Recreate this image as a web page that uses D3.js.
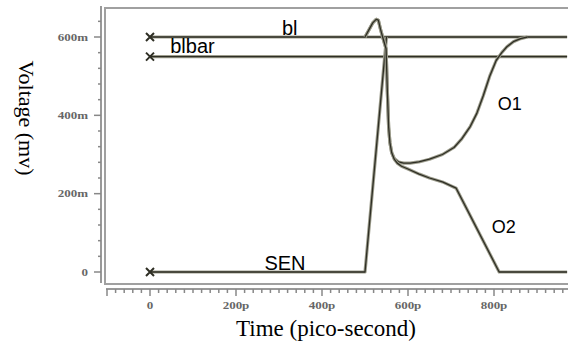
<!DOCTYPE html>
<html>
<head>
<meta charset="utf-8">
<script src="https://cdn.jsdelivr.net/npm/d3@7"></script>
<style>
  body { margin: 0; background: #fff; }
  svg { display: block; }
</style>
</head>
<body>
<svg id="chart" width="568" height="341"></svg>
<script>
const width = 568;
const height = 341;

// time in pico-seconds, voltage in mV
const blTime = [0, 970];
const blVolt = [600, 600];
const blbarTime = [0, 970];
const blbarVolt = [550, 550];
const senTime = [0, 500, 550];
const senVolt = [0, 0, 600];
const o1Time = [500, 510, 518, 526, 531, 536, 541, 549, 552, 555, 558, 562, 568, 578, 590, 605, 625, 650, 680, 707, 725, 745, 760, 775, 790, 805, 818, 830, 845, 862, 878];
const o1Volt = [600, 620, 636, 645, 643, 620, 600, 570, 460, 370, 330, 305, 290, 281, 278, 278, 281, 288, 300, 318, 340, 372, 405, 450, 500, 540, 560, 575, 588, 596, 600];
const o2Time = [500, 510, 518, 526, 531, 536, 541, 549, 552, 555, 558, 562, 568, 575, 585, 600, 626, 650, 680, 712, 812, 970];
const o2Volt = [600, 620, 636, 645, 643, 620, 600, 570, 460, 370, 330, 305, 288, 278, 270, 263, 250, 240, 230, 214, 0, 0];

const xMajor = [0, 200, 400, 600, 800];
const xMajorLabels = ["0", "200p", "400p", "600p", "800p"];
const yMajor = [0, 200, 400, 600];
const yMajorLabels = ["0", "200m", "400m", "600m"];

const labels = [
  { text: "bl", t: 307, v: 605, size: 20 },
  { text: "blbar", t: 47, v: 559, size: 20 },
  { text: "SEN", t: 266, v: 5, size: 20 },
  { text: "O1", t: 809, v: 414, size: 18 },
  { text: "O2", t: 795, v: 100, size: 18 }
];
const markers = [[0, 600], [0, 550], [0, 0]];

const x = d3.scaleLinear().domain([0, 800]).range([150, 494]);
const y = d3.scaleLinear().domain([0, 600]).range([272, 37]);

const svg = d3.select("#chart");
svg.append("rect").attr("width", width).attr("height", height).attr("fill", "#fff");

// cadre du graphe
svg.append("rect")
  .attr("x", 105).attr("y", 8)
  .attr("width", 480).attr("height", 276)
  .attr("fill", "none")
  .attr("stroke", "#a0a0a0")
  .attr("stroke-width", 2);

// axe Y
const yAxisX = 101;
svg.append("line")
  .attr("x1", yAxisX).attr("x2", yAxisX)
  .attr("y1", 6).attr("y2", 283)
  .attr("stroke", "#999").attr("stroke-width", 2);

const yTicks = d3.range(0, 641, 40);
svg.selectAll(".ytick")
  .data(yTicks)
  .enter().append("line")
  .attr("x1", d => yMajor.includes(d) ? yAxisX - 7 : yAxisX - 3)
  .attr("x2", yAxisX)
  .attr("y1", d => y(d)).attr("y2", d => y(d))
  .attr("stroke", "#888").attr("stroke-width", 1.5);

svg.selectAll(".ylab")
  .data(yMajor)
  .enter().append("text")
  .attr("transform", d => `translate(88,${y(d) + 3.5}) scale(1.3,1)`)
  .attr("text-anchor", "end")
  .attr("font-family", "Liberation Serif")
  .attr("font-weight", "bold")
  .attr("font-size", "10px")
  .attr("fill", "#666")
  .text((d, i) => yMajorLabels[i]);

// axe X
const xAxisY = 289;
svg.append("line")
  .attr("x1", 106).attr("x2", width)
  .attr("y1", xAxisY).attr("y2", xAxisY)
  .attr("stroke", "#999").attr("stroke-width", 2);

const xTicks = d3.range(-100, 961, 20);
svg.selectAll(".xtick")
  .data(xTicks)
  .enter().append("line")
  .attr("x1", d => x(d)).attr("x2", d => x(d))
  .attr("y1", xAxisY)
  .attr("y2", d => (xMajor.includes(d) || d === -100) ? xAxisY + 7 : xAxisY + 4)
  .attr("stroke", "#888").attr("stroke-width", 1.5);

svg.selectAll(".xlab")
  .data(xMajor)
  .enter().append("text")
  .attr("transform", d => `translate(${x(d)},309) scale(1.3,1)`)
  .attr("text-anchor", "middle")
  .attr("font-family", "Liberation Serif")
  .attr("font-weight", "bold")
  .attr("font-size", "10px")
  .attr("fill", "#666")
  .text((d, i) => xMajorLabels[i]);

// titres des axes
svg.append("text")
  .attr("x", 326).attr("y", 336)
  .attr("text-anchor", "middle")
  .attr("font-family", "Liberation Serif")
  .attr("font-size", "23px")
  .attr("fill", "#000")
  .text("Time (pico-second)");

svg.append("text")
  .attr("transform", "translate(19,118) rotate(90)")
  .attr("text-anchor", "middle")
  .attr("font-family", "Liberation Serif")
  .attr("font-size", "22px")
  .attr("fill", "#000")
  .text("Voltage (mv)");

// courbes
const series = [
  { t: blTime, v: blVolt },
  { t: blbarTime, v: blbarVolt },
  { t: senTime, v: senVolt },
  { t: o1Time, v: o1Volt },
  { t: o2Time, v: o2Volt }
];

const line = d3.line().x(d => x(d[0])).y(d => y(d[1]));
const plot = svg.append("g");
series.forEach(s => {
  const pts = s.t.map((t, i) => [t, s.v[i]]);
  plot.append("path")
    .attr("d", line(pts))
    .attr("fill", "none")
    .attr("stroke", "#9c9c8c")
    .attr("stroke-width", 3.2)
    .attr("stroke-linejoin", "round");
  plot.append("path")
    .attr("d", line(pts))
    .attr("fill", "none")
    .attr("stroke", "#2e2e24")
    .attr("stroke-width", 1.3)
    .attr("stroke-linejoin", "round");
});

// marqueurs X
const m = plot.selectAll(".marker")
  .data(markers)
  .enter().append("g")
  .attr("transform", d => `translate(${x(d[0])},${y(d[1])})`);
m.append("path")
  .attr("d", "M-4,-4L4,4M-4,4L4,-4")
  .attr("stroke", "#2e2e24")
  .attr("stroke-width", 2);

// étiquettes
svg.selectAll(".lab")
  .data(labels)
  .enter().append("text")
  .attr("x", d => x(d.t))
  .attr("y", d => y(d.v))
  .attr("font-family", "Liberation Sans")
  .attr("font-size", d => d.size + "px")
  .attr("fill", "#000")
  .text(d => d.text);
</script>
</body>
</html>
